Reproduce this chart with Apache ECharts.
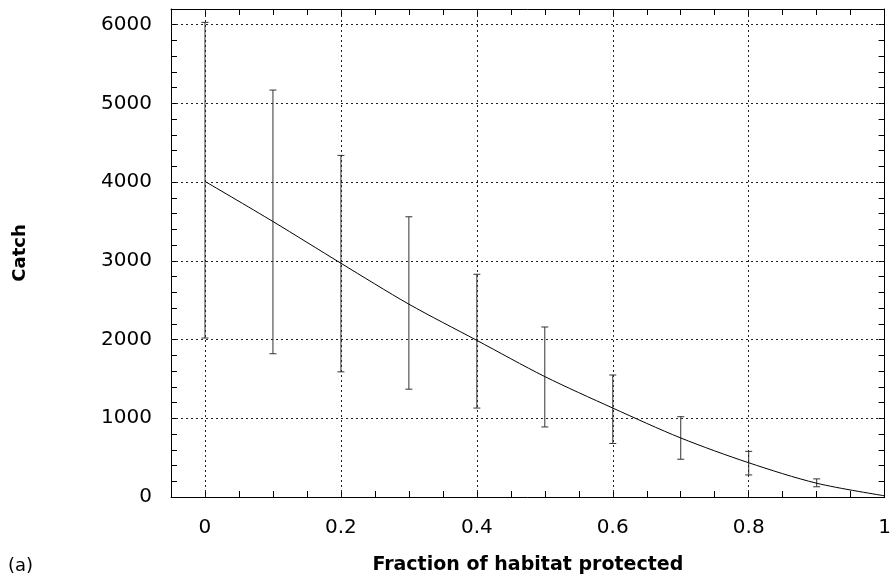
<!DOCTYPE html>
<html>
<head>
<meta charset="utf-8">
<script src="https://cdn.jsdelivr.net/npm/echarts@6/dist/echarts.min.js"></script>
<style>
    html, body { margin: 0; padding: 0; background: #fff; }
    #chart { width: 894px; height: 581px; }
</style>
</head>
<body>
<div id="chart"></div>
<script>
// 曲线上的点（x = 保护比例）
var fractions = [0, 0.1, 0.2, 0.3, 0.4, 0.5, 0.6, 0.7, 0.8, 0.9, 1.0];
var catchMean = [4010, 3500, 2970, 2450, 1990, 1530, 1130, 750, 435, 175, 15];
// 误差棒
var barFractions = [0, 0.1, 0.2, 0.3, 0.4, 0.5, 0.6, 0.7, 0.8, 0.9];
var errLow = [2020, 1820, 1590, 1370, 1130, 890, 680, 480, 280, 130];
var errHigh = [6030, 5170, 4340, 3560, 2830, 2160, 1550, 1020, 580, 230];
// 网格线/刻度标签位置
var xGridTicks = [0, 0.2, 0.4, 0.6, 0.8];
var yGridTicks = [1000, 2000, 3000, 4000, 5000, 6000];

(function () {
    var myChart = echarts.init(document.getElementById("chart"));
    var font = 'DejaVu Sans';

    var curveData = fractions.map(function (f, i) { return [f, catchMean[i]]; });
    var barData = barFractions.map(function (f, i) { return [f, errLow[i], errHigh[i]]; });

    // 虚线网格
    var gridLines = [];
    xGridTicks.forEach(function (v) { gridLines.push({ xAxis: v }); });
    yGridTicks.forEach(function (v) { gridLines.push({ yAxis: v }); });

    // 只在 0.2 的整数倍处显示 x 轴标签
    function xLabel(v) {
        var k = v / 0.2;
        if (v < -1e-9 || Math.abs(k - Math.round(k)) > 1e-6) return '';
        var r = Math.round(k) * 0.2;
        return (Math.round(r * 10) / 10).toString();
    }
    // 只在 1000 的整数倍处显示 y 轴标签
    function yLabel(v) {
        return v % 1000 === 0 ? String(v) : '';
    }

    var axisLineStyle = { color: '#000', width: 1 };

    var option = {
        animation: false,
        grid: { left: 171, right: 7, top: 9, bottom: 84, show: false },
        graphic: [{
            type: 'text',
            left: 8,
            top: 557,
            style: { text: '(a)', font: '18px "DejaVu Sans"', fill: '#000' }
        }],
        xAxis: [{
            type: 'value',
            min: -0.05,
            max: 1,
            interval: 0.05,
            position: 'bottom',
            name: 'Fraction of habitat protected',
            nameLocation: 'middle',
            nameGap: 59,
            nameTextStyle: { fontFamily: font, fontWeight: 'bold', fontSize: 19, color: '#000' },
            axisLine: { onZero: false, lineStyle: axisLineStyle },
            axisTick: { inside: true, length: 6, lineStyle: axisLineStyle },
            axisLabel: { formatter: xLabel, fontFamily: font, fontSize: 20, color: '#000', margin: 21, showMinLabel: true, showMaxLabel: true },
            splitLine: { show: false }
        }, {
            type: 'value',
            min: -0.05,
            max: 1,
            interval: 0.05,
            position: 'top',
            axisLine: { onZero: false, lineStyle: axisLineStyle },
            axisTick: { inside: true, length: 6, lineStyle: axisLineStyle },
            axisLabel: { show: false },
            splitLine: { show: false }
        }],
        yAxis: [{
            type: 'value',
            min: 0,
            max: 6200,
            interval: 200,
            position: 'left',
            name: 'Catch',
            nameLocation: 'middle',
            nameGap: 142,
            nameTextStyle: { fontFamily: font, fontWeight: 'bold', fontSize: 18, color: '#000' },
            axisLine: { show: true, onZero: false, lineStyle: axisLineStyle },
            axisTick: { show: true, inside: true, length: 6, lineStyle: axisLineStyle },
            axisLabel: { formatter: yLabel, fontFamily: font, fontSize: 20, color: '#000', margin: 19 },
            splitLine: { show: false }
        }, {
            type: 'value',
            min: 0,
            max: 6200,
            interval: 200,
            position: 'right',
            axisLine: { show: true, onZero: false, lineStyle: axisLineStyle },
            axisTick: { show: true, inside: true, length: 6, lineStyle: axisLineStyle },
            axisLabel: { show: false },
            splitLine: { show: false }
        }],
        series: [{
            // 网格线
            type: 'line',
            data: [],
            silent: true,
            markLine: {
                silent: true,
                symbol: ['none', 'none'],
                label: { show: false },
                lineStyle: { color: '#222', width: 1, type: [2, 3] },
                emphasis: { disabled: true },
                data: gridLines
            }
        }, {
            name: 'error',
            type: 'custom',
            data: barData,
            silent: true,
            z: 3,
            renderItem: function (params, api) {
                var x = api.value(0);
                var lo = api.coord([x, api.value(1)]);
                var hi = api.coord([x, api.value(2)]);
                var w = 3.5;
                var style = { stroke: '#333', lineWidth: 1 };
                return {
                    type: 'group',
                    children: [
                        { type: 'line', shape: { x1: lo[0], y1: lo[1], x2: hi[0], y2: hi[1] }, style: style },
                        { type: 'line', shape: { x1: lo[0] - w, y1: lo[1], x2: lo[0] + w, y2: lo[1] }, style: style },
                        { type: 'line', shape: { x1: hi[0] - w, y1: hi[1], x2: hi[0] + w, y2: hi[1] }, style: style }
                    ]
                };
            }
        }, {
            name: 'catch',
            type: 'line',
            data: curveData,
            smooth: 0.3,
            showSymbol: false,
            silent: true,
            z: 4,
            lineStyle: { color: '#000', width: 1 }
        }]
    };
    myChart.setOption(option);
    window.addEventListener("resize", function () {
        myChart.resize();
    });
})();
</script>
</body>
</html>
